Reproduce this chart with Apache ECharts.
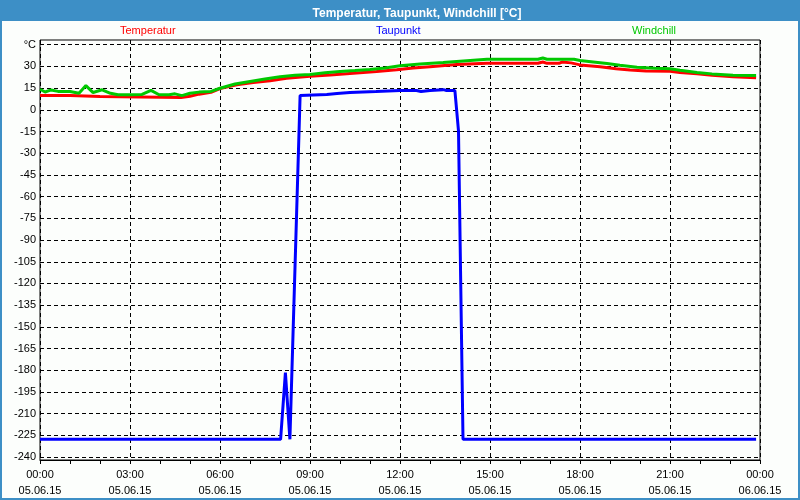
<!DOCTYPE html>
<html>
<head>
<meta charset="utf-8">
<script src="https://cdn.jsdelivr.net/npm/echarts@6/dist/echarts.min.js"></script>
<style>
html,body{margin:0;padding:0;background:#3d8fc6;}
#chart{width:800px;height:500px;}
</style>
</head>
<body>
<div id="chart"></div>
<script>
// ---- data (hours since 05.06.15 00:00, °C) ----
var tempTimes = [0.0, 1.0, 1.03, 2.0, 2.03, 4.7, 5.0, 5.3, 5.7, 6.0, 6.56, 7.11, 7.67, 8.22, 9.0, 9.67, 10.44, 11.22, 11.89, 12.44, 13.0, 13.89, 14.89, 16.6, 16.76, 16.9, 17.3, 17.4, 17.7, 18.0, 18.67, 19.2, 19.67, 20.2, 21.0, 21.33, 21.9, 22.4, 23.1, 23.87];
var temperatur = [9.4, 9.4, 8.7, 8.7, 8.0, 8.0, 9.0, 10.4, 11.7, 14.3, 16.8, 18.4, 19.7, 21.4, 22.8, 23.7, 24.8, 26.0, 27.3, 28.4, 29.4, 30.8, 31.7, 31.7, 32.6, 31.7, 31.7, 32.6, 32.0, 30.6, 29.4, 28.0, 27.1, 26.4, 26.2, 25.3, 24.4, 23.5, 22.5, 21.8];

var windTimes = [0.0, 0.17, 0.37, 0.6, 1.0, 1.3, 1.53, 1.77, 2.07, 2.35, 2.6, 3.0, 3.4, 3.7, 3.97, 4.3, 4.5, 4.73, 5.0, 5.3, 5.7, 6.0, 6.5, 7.0, 7.5, 8.0, 8.5, 9.0, 9.5, 10.0, 10.5, 11.0, 11.5, 12.0, 12.67, 13.44, 14.0, 14.9, 16.6, 16.76, 16.9, 17.8, 18.0, 18.44, 18.9, 19.33, 19.9, 20.5, 21.0, 21.33, 21.9, 22.4, 23.1, 23.87];
var windchill = [13.8, 11.9, 13.3, 12.3, 12.2, 11.0, 16.3, 11.5, 13.4, 11.0, 10.0, 9.9, 10.2, 13.0, 10.0, 10.0, 10.6, 9.4, 11.0, 11.8, 12.3, 14.5, 17.4, 19.2, 20.8, 22.4, 23.5, 24.0, 25.2, 26.0, 26.7, 27.5, 28.4, 30.0, 31.3, 32.2, 33.1, 34.5, 34.5, 35.4, 34.5, 34.5, 33.6, 32.6, 31.5, 30.4, 29.0, 28.3, 28.0, 26.9, 25.3, 24.4, 23.5, 23.2];

var tauTimes = [0.0, 8.02, 8.18, 8.33, 8.38, 8.67, 9.56, 9.9, 10.33, 11.2, 12.0, 12.55, 12.7, 13.0, 13.45, 13.55, 13.83, 13.95, 14.1, 23.87];
var taupunkt = [-228, -228, -182, -228, -228, 9.4, 10.1, 10.8, 11.5, 12.2, 12.9, 12.9, 12.2, 12.9, 13.5, 12.9, 12.9, -15, -228, -228];

var xTickLabels = ['00:00\n05.06.15', '03:00\n05.06.15', '06:00\n05.06.15', '09:00\n05.06.15', '12:00\n05.06.15', '15:00\n05.06.15', '18:00\n05.06.15', '21:00\n05.06.15', '00:00\n06.06.15'];
var yTopLabel = '°C';

function pairs(ts, vs) { return ts.map(function (t, i) { return [t, vs[i]]; }); }

var FONT = '"Liberation Sans", Arial, sans-serif';
var dash = [4, 3];

var chart = echarts.init(document.getElementById('chart'), null, {renderer: 'canvas'});
chart.setOption({
  animation: false,
  backgroundColor: '#3d8fc6',
  textStyle: {fontFamily: FONT},
  graphic: [{
    type: 'rect', z: -100, silent: true,
    shape: {x: 2, y: 21, width: 796, height: 477},
    style: {fill: '#fcfefc'}
  }],
  title: {
    text: 'Temperatur, Taupunkt, Windchill [°C]',
    left: 412, top: 3, textAlign: 'center',
    textStyle: {color: '#ffffff', fontSize: 12, fontWeight: 'bold', fontFamily: FONT}
  },
  legend: [
    {data: ['Temperatur'], left: 115, top: 24, icon: 'none', itemWidth: 0, padding: 0, selectedMode: false,
      textStyle: {color: '#ff0000', fontSize: 11, fontFamily: FONT}},
    {data: ['Taupunkt'], left: 371, top: 24, icon: 'none', itemWidth: 0, padding: 0, selectedMode: false,
      textStyle: {color: '#0000ff', fontSize: 11, fontFamily: FONT}},
    {data: ['Windchill'], left: 627, top: 24, icon: 'none', itemWidth: 0, padding: 0, selectedMode: false,
      textStyle: {color: '#00c800', fontSize: 11, fontFamily: FONT}}
  ],
  grid: [
    {left: 40, right: 40, top: 40, bottom: 40, show: true, borderColor: '#000', borderWidth: 1, backgroundColor: 'transparent'},
    {left: 40, right: 40, top: 44.7, bottom: 42.9}
  ],
  xAxis: [
    {
      gridIndex: 0, type: 'value', min: 0, max: 24, interval: 3,
      axisLine: {show: true, onZero: false, lineStyle: {color: '#000', width: 1}},
      axisTick: {show: true, length: 4, lineStyle: {color: '#000'}},
      minorTick: {show: true, splitNumber: 3, length: 4, lineStyle: {color: '#000'}},
      splitLine: {show: true, lineStyle: {color: '#000', type: dash, width: 1}},
      axisLabel: {
        margin: 7, color: '#000', fontSize: 11, lineHeight: 16, fontFamily: FONT,
        formatter: function (v) { return xTickLabels[Math.round(v / 3)]; }
      }
    },
    {gridIndex: 1, type: 'value', min: 0, max: 24, show: false}
  ],
  yAxis: [
    {gridIndex: 0, type: 'value', min: -242.3, max: 47.8, show: false, splitLine: {show: false}},
    {
      gridIndex: 1, type: 'value', min: -240, max: 45, interval: 15,
      axisLine: {show: false}, axisTick: {show: false},
      splitLine: {show: true, lineStyle: {color: '#000', type: dash, width: 1}},
      axisLabel: {
        margin: 4, color: '#000', fontSize: 11, fontFamily: FONT,
        formatter: function (v) { return v === 45 ? yTopLabel : String(v); }
      }
    }
  ],
  series: [
    {name: 'Temperatur', type: 'line', xAxisIndex: 0, yAxisIndex: 0, data: pairs(tempTimes, temperatur),
      showSymbol: false, color: '#ff0000', lineStyle: {width: 3, color: '#ff0000'}, z: 3},
    {name: 'Taupunkt', type: 'line', xAxisIndex: 0, yAxisIndex: 0, data: pairs(tauTimes, taupunkt),
      showSymbol: false, color: '#0000ff', lineStyle: {width: 3, color: '#0000ff'}, z: 4},
    {name: 'Windchill', type: 'line', xAxisIndex: 0, yAxisIndex: 0, data: pairs(windTimes, windchill),
      showSymbol: false, color: '#00c800', lineStyle: {width: 3, color: '#00c800'}, z: 5}
  ]
});
</script>
</body>
</html>
